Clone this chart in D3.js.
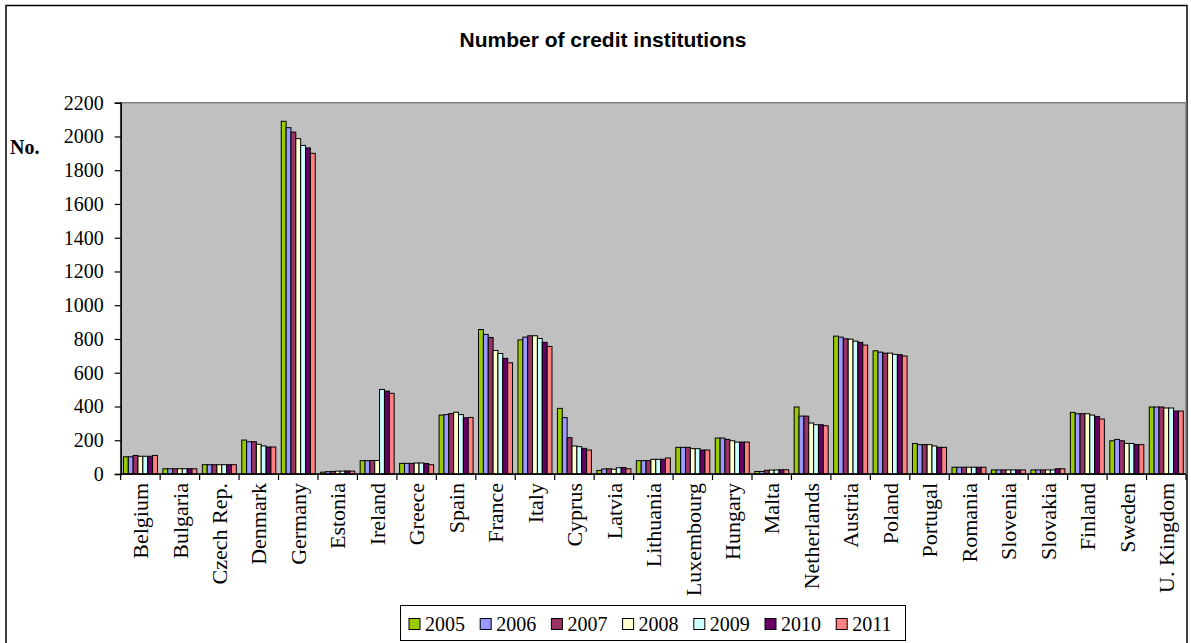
<!DOCTYPE html>
<html>
<head>
<meta charset="utf-8">
<script src="https://cdn.jsdelivr.net/npm/d3@7/dist/d3.min.js"></script>
<style>
  html, body { margin: 0; padding: 0; background: #fff; }
  svg { display: block; }
</style>
</head>
<body>
<svg id="chart" width="1191" height="643"></svg>
<script>
const countries = ["Belgium","Bulgaria","Czech Rep.","Denmark","Germany","Estonia","Ireland","Greece","Spain","France","Italy","Cyprus","Latvia","Lithuania","Luxembourg","Hungary","Malta","Netherlands","Austria","Poland","Portugal","Romania","Slovenia","Slovakia","Finland","Sweden","U. Kingdom"];
const years = ["2005","2006","2007","2008","2009","2010","2011"];
const colors = ["#99CC00","#9999FF","#993366","#FFFFCC","#CCFFFF","#660066","#FF8080"];

const v2005 = [102, 31, 55, 201, 2090, 11, 79, 63, 349, 856, 795, 389, 21, 79, 158, 213, 15, 397, 817, 730, 181, 40, 24, 24, 365, 197, 397];
const v2006 = [102, 31, 55, 191, 2052, 14, 79, 63, 352, 827, 811, 334, 30, 79, 158, 213, 15, 343, 811, 722, 174, 40, 24, 24, 357, 205, 397];
const v2007 = [110, 31, 55, 191, 2026, 15, 80, 63, 358, 809, 819, 215, 31, 79, 158, 205, 22, 343, 801, 716, 174, 40, 24, 24, 357, 197, 397];
const v2008 = [105, 31, 55, 176, 1987, 17, 80, 65, 366, 732, 819, 166, 28, 87, 150, 197, 23, 302, 799, 716, 174, 40, 24, 24, 357, 181, 391];
const v2009 = [105, 31, 55, 166, 1947, 17, 501, 65, 352, 714, 803, 162, 37, 87, 150, 189, 24, 292, 787, 709, 166, 40, 24, 24, 349, 181, 391];
const v2010 = [105, 31, 55, 160, 1932, 18, 491, 62, 333, 685, 780, 152, 38, 87, 142, 189, 25, 292, 780, 707, 158, 40, 24, 31, 341, 174, 373];
const v2011 = [110, 31, 55, 160, 1900, 17, 478, 55, 335, 659, 756, 142, 31, 95, 142, 189, 25, 286, 764, 699, 158, 40, 24, 31, 326, 174, 373];
const series = [v2005, v2006, v2007, v2008, v2009, v2010, v2011];
const yTicks = [0,200,400,600,800,1000,1200,1400,1600,1800,2000,2200];

const svg = d3.select("#chart");
const L = 120.7, R = 1186, T = 102.7, B = 474;
const serif = "'Liberation Serif', 'Times New Roman', serif";

// outer border
svg.append("rect").attr("x", 6).attr("y", 5.5).attr("width", 1181).attr("height", 660)
  .attr("fill", "#fff").attr("stroke", "#000").attr("stroke-width", 1.5);

// title
svg.append("text").attr("x", 603).attr("y", 47).attr("text-anchor", "middle")
  .attr("font-family", "'Liberation Sans', Arial, sans-serif").attr("font-weight", "bold")
  .attr("font-size", 21).text("Number of credit institutions");

// plot area
svg.append("rect").attr("x", L).attr("y", T).attr("width", R - L).attr("height", B - T)
  .attr("fill", "#C0C0C0").attr("stroke", "#808080").attr("stroke-width", 1.5);

const y = d3.scaleLinear().domain([0, 2200]).range([B, T]);
const x0 = d3.scaleBand().domain(countries).range([L, R]).padding(0);
const x1 = d3.scaleBand().domain(years).range([0, x0.bandwidth()]).paddingInner(0).paddingOuter(0.56);

// bars
const g = svg.append("g");
countries.forEach((c, ci) => {
  years.forEach((yr, si) => {
    const val = series[si][ci];
    g.append("rect")
      .attr("x", x0(c) + x1(yr))
      .attr("y", y(val))
      .attr("width", x1.bandwidth())
      .attr("height", B - y(val))
      .attr("fill", colors[si])
      .attr("stroke", "#000")
      .attr("stroke-width", 1);
  });
});

// y axis
const yAxis = d3.axisLeft(y).tickValues(yTicks).tickSize(6).tickPadding(11).tickFormat(d3.format("d"));
const yg = svg.append("g").attr("transform", `translate(${L},0)`).call(yAxis);
yg.select(".domain").attr("stroke", "#000").attr("stroke-width", 1.5);
yg.selectAll(".tick line").attr("stroke", "#000").attr("stroke-width", 1.2);
yg.selectAll("text").attr("font-family", serif).attr("font-size", 20).attr("fill", "#000");

// x axis line and ticks at group boundaries
const xg = svg.append("g");
xg.append("line").attr("x1", L).attr("x2", R).attr("y1", B).attr("y2", B)
  .attr("stroke", "#000").attr("stroke-width", 1.5);
const bounds = countries.map(c => x0(c)).concat([R]);
xg.selectAll("line.tk").data(bounds).enter().append("line").attr("class", "tk")
  .attr("x1", d => d).attr("x2", d => d).attr("y1", B).attr("y2", B + 6)
  .attr("stroke", "#000").attr("stroke-width", 1.2);
xg.selectAll("text").data(countries).enter().append("text")
  .attr("transform", d => `translate(${x0(d) + x0.bandwidth() / 2},${B + 9}) rotate(-90)`)
  .attr("text-anchor", "end").attr("dy", "0.35em")
  .attr("font-family", serif).attr("font-size", 22).attr("fill", "#000")
  .text(d => d);

// y label
svg.append("text").attr("x", 10).attr("y", 154).attr("font-family", serif)
  .attr("font-weight", "bold").attr("font-size", 20).text("No.");

// legend
const lg = svg.append("g");
lg.append("rect").attr("x", 400.5).attr("y", 605.5).attr("width", 505).attr("height", 35)
  .attr("fill", "#fff").attr("stroke", "#000").attr("stroke-width", 1);
years.forEach((yr, i) => {
  const lx = 409 + i * 71.2;
  lg.append("rect").attr("x", lx).attr("y", 618.5).attr("width", 11).attr("height", 11)
    .attr("fill", colors[i]).attr("stroke", "#000").attr("stroke-width", 1);
  lg.append("text").attr("x", lx + 16).attr("y", 631).attr("font-family", serif)
    .attr("font-size", 20).attr("fill", "#000").text(yr);
});
</script>
</body>
</html>
